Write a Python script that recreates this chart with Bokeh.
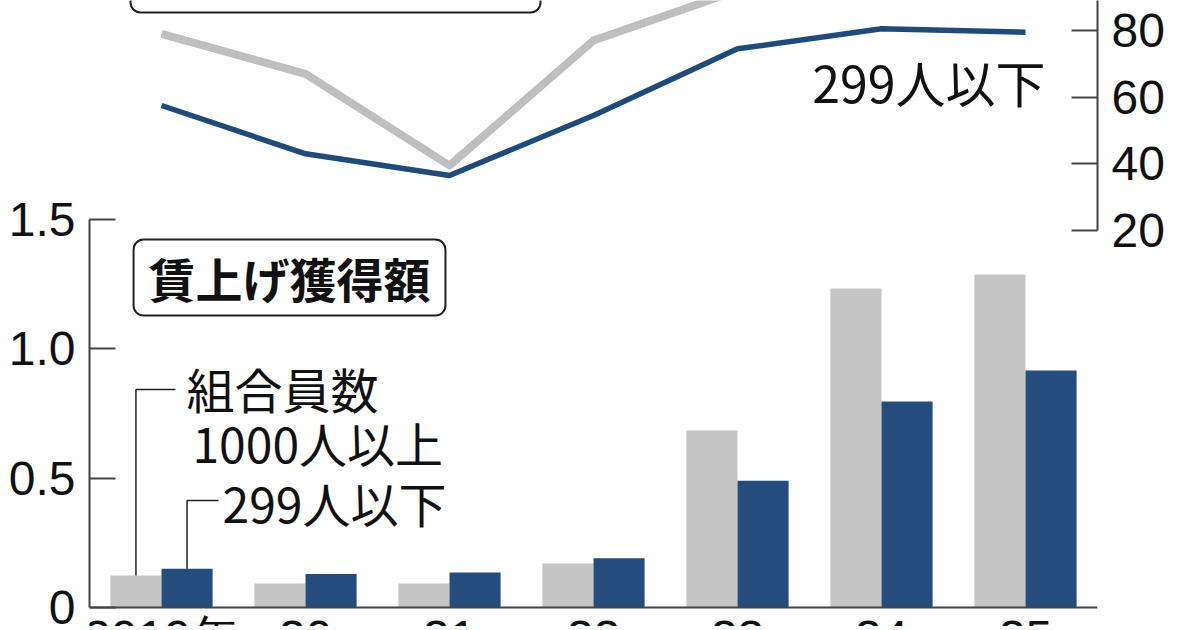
from bokeh.plotting import figure
from bokeh.models import (FactorRange, Range1d, LinearAxis, FixedTicker, ColumnDataSource,
                          Label, BoxAnnotation)
from bokeh.transform import dodge
from bokeh.embed import file_html
from bokeh.resources import INLINE

# ---- data ----
years = ["2019年", "20", "21", "22", "23", "24", "25"]
gain_large = [0.124, 0.093, 0.093, 0.17, 0.684, 1.233, 1.287]   # 組合員数1000人以上 (万円)
gain_small = [0.15, 0.13, 0.135, 0.19, 0.49, 0.796, 0.916]      # 299人以下 (万円)
rate_large = [79, 67, 39.5, 77, 92, 95, 94]                      # upper line chart
rate_small = [57.5, 43, 36.5, 54.5, 74.5, 80.5, 79.5]
bar_ticks = [0, 0.5, 1.0, 1.5]
bar_tick_labels = {0: "0", 0.5: "0.5", 1: "1.0", 1.5: "1.5"}
rate_ticks = [20, 40, 60, 80]

GREY_BAR = "#c5c5c5"
BLUE_BAR = "#244d7d"
GREY_LINE = "#bfbfbf"
BLUE_LINE = "#1f4a7a"
AXIS = "#444444"
NUM_FONT = "Liberation Sans"
JP_FONT = "Noto Sans CJK JP"

src = ColumnDataSource(dict(year=years, large=gain_large, small=gain_small,
                            rl=rate_large, rs=rate_small))

p = figure(x_range=FactorRange(*years), y_range=Range1d(-0.0734, 2.3464),
           width=1192, height=626, output_backend="svg", toolbar_location=None,
           min_border_left=89, min_border_right=95, min_border_top=0, min_border_bottom=0,
           title=None)
p.outline_line_color = None
p.xgrid.visible = False
p.ygrid.visible = False
p.background_fill_color = "white"
p.border_fill_color = "white"

p.extra_y_ranges = {"rate": Range1d(-98.8, 89.0)}

# ---- bars ----
W = 0.355
p.vbar(x=dodge("year", -W / 2, range=p.x_range), top="large", width=W, source=src,
       fill_color=GREY_BAR, line_color=None)
p.vbar(x=dodge("year", W / 2, range=p.x_range), top="small", width=W, source=src,
       fill_color=BLUE_BAR, line_color=None)

# ---- lines ----
p.line(x="year", y="rl", source=src, y_range_name="rate", line_color=GREY_LINE,
       line_width=8, line_join="round")
p.line(x="year", y="rs", source=src, y_range_name="rate", line_color=BLUE_LINE,
       line_width=5.5, line_join="round")

# ---- axes ----
def style_num_axis(ax):
    ax.major_tick_in = 26
    ax.major_tick_out = 0
    ax.minor_tick_in = 0
    ax.minor_tick_out = 0
    ax.axis_line_color = AXIS
    ax.axis_line_width = 2
    ax.major_tick_line_color = AXIS
    ax.major_tick_line_width = 2
    ax.major_label_text_font = NUM_FONT
    ax.major_label_text_font_size = "48px"
    ax.major_label_text_color = "#111111"
    ax.major_label_standoff = 14

ya = p.yaxis[0]
ya.ticker = FixedTicker(ticks=bar_ticks)
ya.bounds = (0, 1.5)
ya.major_label_overrides = bar_tick_labels
style_num_axis(ya)

xa = p.xaxis[0]
xa.fixed_location = 0
xa.axis_line_color = AXIS
xa.axis_line_width = 2
xa.major_tick_in = 0
xa.major_tick_out = 0
xa.major_label_text_font = NUM_FONT
xa.major_label_text_font_size = "48px"
xa.major_label_text_color = "#111111"
xa.major_label_standoff = 3

ra = LinearAxis(y_range_name="rate", ticker=FixedTicker(ticks=rate_ticks), bounds=(20, 200))
style_num_axis(ra)
p.add_layout(ra, "right")

# ---- boxes ----
p.add_layout(BoxAnnotation(left=0.285, right=3.132, bottom=2.300, top=2.8,
                           fill_color=None, fill_alpha=0, line_color="#222222",
                           line_alpha=1, line_width=2, border_radius=10))
p.add_layout(BoxAnnotation(left=0.306, right=2.472, bottom=1.1287, top=1.4225,
                           fill_color=None, fill_alpha=0, line_color="#222222",
                           line_alpha=1, line_width=2, border_radius=10))
p.add_layout(Label(x=1.389, y=1.276, text="賃上げ獲得額", text_align="center",
                   text_baseline="middle", text_font=JP_FONT, text_font_style="bold",
                   text_font_size="47px", text_color="#111111"))

# ---- unit label ----
p.add_layout(Label(x=-0.514, y=1.689, text="万円", text_align="left", text_baseline="middle",
                   text_font=JP_FONT, text_font_size="37px", text_color="#111111"))

# ---- legend-like labels ----
def lab(x, y, t, size="48px", align="left", **kw):
    p.add_layout(Label(x=x, y=y, text=t, text_align=align, text_baseline="middle",
                       text_font=JP_FONT, text_font_size=size, text_color="#111111", **kw))

lab(0.674, 0.847, "組合員数")
lab(0.715, 0.638, "1000人以上")
lab(0.924, 0.406, "299人以下")
lab(6.639, 65, "299人以下", size="50px", align="right", y_range_name="rate")

# leader lines from the first year's bars
g_x = years.index(years[0]) + 0.5 - W / 2
b_x = years.index(years[0]) + 0.5 + W / 2
p.multi_line(xs=[[g_x, g_x, 0.597], [b_x, b_x, 0.896]],
             ys=[[gain_large[0], 0.843, 0.843], [gain_small[0], 0.414, 0.414]],
             line_color="#222222", line_width=1.5)

open("out.html", "w").write(file_html(p, INLINE))
